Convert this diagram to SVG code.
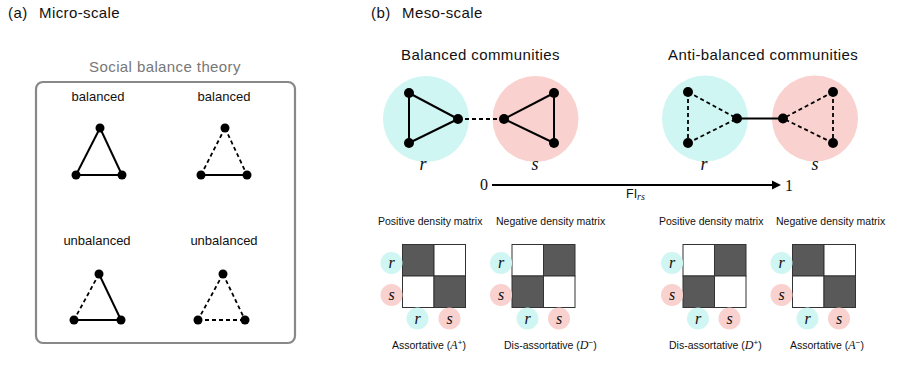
<svg xmlns="http://www.w3.org/2000/svg" width="897" height="370" viewBox="0 0 897 370">
<style>
.sans{font-family:"Liberation Sans",Arial,Helvetica,sans-serif;fill:#111}
.hdr{font-size:15px;letter-spacing:0.4px}
.title{font-size:15px;letter-spacing:0.4px}
.lab{font-size:13px}
.small{font-size:10.5px}
.it{font-family:"Liberation Serif","Times New Roman",serif;font-style:italic;fill:#111}
.serif{font-family:"Liberation Serif","Times New Roman",serif;fill:#111}
.sol{stroke:#000;stroke-width:2;fill:none}
.dsh{stroke:#000;stroke-width:1.8;fill:none;stroke-dasharray:4 3}
.nd{fill:#000}
.cy{fill:#cff6f2}
.pk{fill:#f9d1ce}
.dk{fill:#595959;stroke:#333;stroke-width:1}
.wh{fill:#fff;stroke:#333;stroke-width:1}
</style>
<rect width="897" height="370" fill="#fff"/>

<g id="header-a">
<text class="sans hdr" x="8" y="18">(a)</text>
<text class="sans hdr" x="39" y="18">Micro-scale</text>
</g>
<g id="header-b">
<text class="sans hdr" x="371" y="18">(b)</text>
<text class="sans hdr" x="402" y="18">Meso-scale</text>
</g>

<g id="micro">
<text class="sans title" x="165" y="72" text-anchor="middle" style="fill:#777">Social balance theory</text>
<rect x="36" y="82" width="259" height="261" rx="7" fill="none" stroke="#888" stroke-width="2.2"/>

<g id="tri1">
<text class="sans lab" x="98" y="101" text-anchor="middle">balanced</text>
<line class="sol" x1="100" y1="128" x2="76" y2="175"/>
<line class="sol" x1="100" y1="128" x2="122" y2="175"/>
<line class="sol" x1="76" y1="175" x2="122" y2="175"/>
<circle class="nd" cx="100" cy="128" r="4.5"/><circle class="nd" cx="76" cy="175" r="4.5"/><circle class="nd" cx="122" cy="175" r="4.5"/>
</g>
<g id="tri2">
<text class="sans lab" x="224" y="101" text-anchor="middle">balanced</text>
<line class="dsh" x1="225" y1="128" x2="201" y2="175"/>
<line class="dsh" x1="225" y1="128" x2="247" y2="175"/>
<line class="sol" x1="201" y1="175" x2="247" y2="175"/>
<circle class="nd" cx="225" cy="128" r="4.5"/><circle class="nd" cx="201" cy="175" r="4.5"/><circle class="nd" cx="247" cy="175" r="4.5"/>
</g>
<g id="tri3">
<text class="sans lab" x="97" y="245" text-anchor="middle">unbalanced</text>
<line class="dsh" x1="99" y1="274" x2="74" y2="320"/>
<line class="sol" x1="99" y1="274" x2="121" y2="320"/>
<line class="sol" x1="74" y1="320" x2="121" y2="320"/>
<circle class="nd" cx="99" cy="274" r="4.5"/><circle class="nd" cx="74" cy="320" r="4.5"/><circle class="nd" cx="121" cy="320" r="4.5"/>
</g>
<g id="tri4">
<text class="sans lab" x="224" y="245" text-anchor="middle">unbalanced</text>
<line class="dsh" x1="223" y1="274" x2="198" y2="320"/>
<line class="dsh" x1="223" y1="274" x2="245" y2="320"/>
<line class="dsh" x1="198" y1="320" x2="245" y2="320"/>
<circle class="nd" cx="223" cy="274" r="4.5"/><circle class="nd" cx="198" cy="320" r="4.5"/><circle class="nd" cx="245" cy="320" r="4.5"/>
</g>
</g>

<g id="balanced-communities">
<text class="sans title" x="401" y="60">Balanced communities</text>
<circle class="cy" cx="426" cy="119" r="43"/>
<circle class="pk" cx="535.5" cy="119" r="43"/>
<line class="sol" x1="409" y1="93" x2="409" y2="143"/>
<line class="sol" x1="409" y1="93" x2="458" y2="119"/>
<line class="sol" x1="409" y1="143" x2="458" y2="119"/>
<line class="sol" x1="554" y1="93" x2="554" y2="143"/>
<line class="sol" x1="554" y1="93" x2="504" y2="119"/>
<line class="sol" x1="554" y1="143" x2="504" y2="119"/>
<line class="dsh" x1="458" y1="119" x2="504" y2="119"/>
<circle class="nd" cx="409" cy="93" r="5"/><circle class="nd" cx="409" cy="143" r="5"/><circle class="nd" cx="458" cy="119" r="5"/>
<circle class="nd" cx="504" cy="119" r="5"/><circle class="nd" cx="554" cy="93" r="5"/><circle class="nd" cx="554" cy="143" r="5"/>
<text class="it" x="423" y="170" font-size="18" text-anchor="middle">r</text>
<text class="it" x="535" y="170" font-size="18" text-anchor="middle">s</text>
</g>

<g id="anti-balanced-communities">
<text class="sans title" x="668" y="60">Anti-balanced communities</text>
<circle class="cy" cx="705" cy="118.5" r="43"/>
<circle class="pk" cx="815" cy="118.5" r="43"/>
<line class="dsh" x1="688" y1="92" x2="688" y2="143"/>
<line class="dsh" x1="688" y1="92" x2="737" y2="118.5"/>
<line class="dsh" x1="688" y1="143" x2="737" y2="118.5"/>
<line class="dsh" x1="833" y1="92" x2="833" y2="143"/>
<line class="dsh" x1="833" y1="92" x2="783" y2="118.5"/>
<line class="dsh" x1="833" y1="143" x2="783" y2="118.5"/>
<line class="sol" x1="737" y1="118.5" x2="783" y2="118.5"/>
<circle class="nd" cx="688" cy="92" r="5"/><circle class="nd" cx="688" cy="143" r="5"/><circle class="nd" cx="737" cy="118.5" r="5"/>
<circle class="nd" cx="783" cy="118.5" r="5"/><circle class="nd" cx="833" cy="92" r="5"/><circle class="nd" cx="833" cy="143" r="5"/>
<text class="it" x="704" y="170" font-size="18" text-anchor="middle">r</text>
<text class="it" x="815" y="170" font-size="18" text-anchor="middle">s</text>
</g>

<g id="connectors">
<text class="serif" x="484" y="190" font-size="16" text-anchor="middle">0</text>
<line x1="492" y1="185" x2="774" y2="185" stroke="#000" stroke-width="2"/>
<polygon points="772,180.5 781,185 772,189.5" fill="#000"/>
<text class="serif" x="789" y="190.5" font-size="16" text-anchor="middle">1</text>
<text class="sans" x="626" y="198" font-size="12.5">FI<tspan class="it" font-size="10" dy="2">rs</tspan></text>
</g>

<g id="matrix1">
<text class="sans small" x="378" y="225">Positive density matrix</text>
<rect class="dk" x="402.5" y="244.5" width="31.5" height="31.5"/>
<rect class="wh" x="434" y="244.5" width="31.5" height="31.5"/>
<rect class="wh" x="402.5" y="276" width="31.5" height="31.5"/>
<rect class="dk" x="434" y="276" width="31.5" height="31.5"/>
<circle class="cy" cx="391.5" cy="263" r="11"/><text class="it" x="391.5" y="268" font-size="16" text-anchor="middle">r</text>
<circle class="pk" cx="391.5" cy="295" r="11"/><text class="it" x="391.5" y="300" font-size="16" text-anchor="middle">s</text>
<circle class="cy" cx="417.5" cy="318.5" r="11"/><text class="it" x="417.5" y="323.5" font-size="16" text-anchor="middle">r</text>
<circle class="pk" cx="449.5" cy="318.5" r="11"/><text class="it" x="449.5" y="323.5" font-size="16" text-anchor="middle">s</text>
<text class="sans small" x="392" y="349">Assortative (<tspan class="it" font-size="12">A</tspan><tspan font-size="8" dy="-4">+</tspan><tspan dy="4">)</tspan></text>
</g>

<g id="matrix2">
<text class="sans small" x="496" y="225">Negative density matrix</text>
<rect class="wh" x="512" y="244.5" width="31.5" height="31.5"/>
<rect class="dk" x="543.5" y="244.5" width="31.5" height="31.5"/>
<rect class="dk" x="512" y="276" width="31.5" height="31.5"/>
<rect class="wh" x="543.5" y="276" width="31.5" height="31.5"/>
<circle class="cy" cx="501" cy="263" r="11"/><text class="it" x="501" y="268" font-size="16" text-anchor="middle">r</text>
<circle class="pk" cx="501" cy="295" r="11"/><text class="it" x="501" y="300" font-size="16" text-anchor="middle">s</text>
<circle class="cy" cx="527.5" cy="318.5" r="11"/><text class="it" x="527.5" y="323.5" font-size="16" text-anchor="middle">r</text>
<circle class="pk" cx="559" cy="318.5" r="11"/><text class="it" x="559" y="323.5" font-size="16" text-anchor="middle">s</text>
<text class="sans small" x="504" y="349">Dis-assortative (<tspan class="it" font-size="12">D</tspan><tspan font-size="8" dy="-4">−</tspan><tspan dy="4">)</tspan></text>
</g>

<g id="matrix3">
<text class="sans small" x="659" y="225">Positive density matrix</text>
<rect class="wh" x="683" y="244.5" width="31.5" height="31.5"/>
<rect class="dk" x="714.5" y="244.5" width="31.5" height="31.5"/>
<rect class="dk" x="683" y="276" width="31.5" height="31.5"/>
<rect class="wh" x="714.5" y="276" width="31.5" height="31.5"/>
<circle class="cy" cx="672" cy="263" r="11"/><text class="it" x="672" y="268" font-size="16" text-anchor="middle">r</text>
<circle class="pk" cx="672" cy="295" r="11"/><text class="it" x="672" y="300" font-size="16" text-anchor="middle">s</text>
<circle class="cy" cx="698" cy="318.5" r="11"/><text class="it" x="698" y="323.5" font-size="16" text-anchor="middle">r</text>
<circle class="pk" cx="729.5" cy="318.5" r="11"/><text class="it" x="729.5" y="323.5" font-size="16" text-anchor="middle">s</text>
<text class="sans small" x="669" y="349">Dis-assortative (<tspan class="it" font-size="12">D</tspan><tspan font-size="8" dy="-4">+</tspan><tspan dy="4">)</tspan></text>
</g>

<g id="matrix4">
<text class="sans small" x="776" y="225">Negative density matrix</text>
<rect class="dk" x="792.5" y="244.5" width="31.5" height="31.5"/>
<rect class="wh" x="824" y="244.5" width="31.5" height="31.5"/>
<rect class="wh" x="792.5" y="276" width="31.5" height="31.5"/>
<rect class="dk" x="824" y="276" width="31.5" height="31.5"/>
<circle class="cy" cx="781.5" cy="263" r="11"/><text class="it" x="781.5" y="268" font-size="16" text-anchor="middle">r</text>
<circle class="pk" cx="781.5" cy="295" r="11"/><text class="it" x="781.5" y="300" font-size="16" text-anchor="middle">s</text>
<circle class="cy" cx="807.5" cy="318.5" r="11"/><text class="it" x="807.5" y="323.5" font-size="16" text-anchor="middle">r</text>
<circle class="pk" cx="839" cy="318.5" r="11"/><text class="it" x="839" y="323.5" font-size="16" text-anchor="middle">s</text>
<text class="sans small" x="790" y="349">Assortative (<tspan class="it" font-size="12">A</tspan><tspan font-size="8" dy="-4">−</tspan><tspan dy="4">)</tspan></text>
</g>
</svg>
